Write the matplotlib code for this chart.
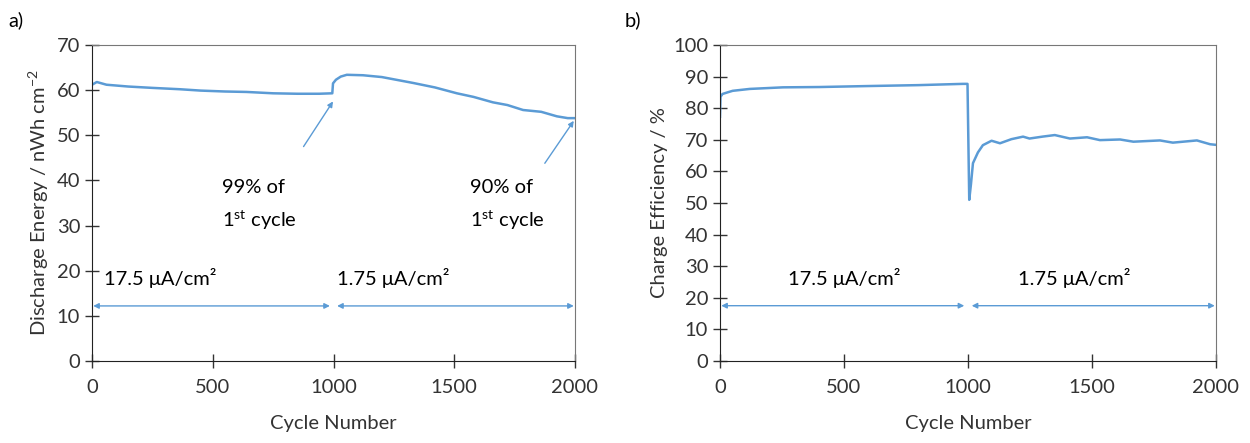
import matplotlib.pyplot as plt

plt.rcParams['font.family'] = ['Lato', 'DejaVu Sans']
plt.rcParams['mathtext.fontset'] = 'custom'
plt.rcParams['mathtext.rm'] = 'Lato'
plt.rcParams['mathtext.it'] = 'Lato:italic'

# a) discharge energy
cyc_a = [0, 20, 60, 150, 250, 364, 450, 550, 640, 750, 850, 940, 995,
         998, 1010, 1030, 1055, 1122, 1200, 1329, 1420, 1511, 1580, 1660,
         1720, 1785, 1860, 1925, 1970, 2000]
energy = [61.2, 61.8, 61.2, 60.8, 60.5, 60.2, 59.9, 59.7, 59.6, 59.3, 59.2, 59.2, 59.3,
          61.5, 62.3, 63.0, 63.4, 63.3, 62.9, 61.6, 60.6, 59.3, 58.5, 57.3,
          56.7, 55.6, 55.2, 54.2, 53.8, 53.8]

# b) charge efficiency
cyc_b = [0, 2, 10, 30, 51, 120, 254, 400, 590, 800, 980, 998,
         1005, 1012, 1020, 1040, 1060, 1095, 1129, 1175, 1222, 1248, 1300, 1350,
         1411, 1480, 1532, 1613, 1667, 1774, 1826, 1923, 1976, 2000]
eff = [77.3, 83.6, 84.5, 85.0, 85.5, 86.1, 86.6, 86.7, 87.0, 87.3, 87.7, 87.7,
       51.0, 56.0, 62.6, 66.0, 68.3, 69.7, 68.9, 70.2, 71.0, 70.4, 71.0, 71.5,
       70.4, 70.8, 69.9, 70.1, 69.4, 69.8, 69.1, 69.8, 68.6, 68.4]

blue = '#5B9BD5'
fs = 14.5

fig = plt.figure(figsize=(12.5, 4.43), dpi=100)
ax1 = fig.add_axes([92 / 1250, 82 / 443, 483 / 1250, 316 / 443])
ax2 = fig.add_axes([720 / 1250, 82 / 443, 496 / 1250, 316 / 443])


def style(ax, ymax):
    ax.set_xlim(0, 2000)
    ax.set_ylim(0, ymax)
    ax.set_xticks([0, 500, 1000, 1500, 2000])
    ax.set_yticks(range(0, ymax + 1, 10))
    ax.tick_params(direction='inout', length=10, width=1, labelsize=fs, colors='#333333')
    ax.tick_params(axis='x', pad=8)
    for s in ['left', 'bottom']:
        ax.spines[s].set_color('#222222')
    for s in ['top', 'right']:
        ax.spines[s].set_color('#777777')
    ax.set_xlabel('Cycle Number', fontsize=fs, labelpad=14, color='#333333')


def span_arrows(ax, y):
    kw = dict(arrowstyle='<|-|>', color=blue, lw=1, mutation_scale=8, shrinkA=0, shrinkB=0)
    ax.annotate('', xy=(5, y), xytext=(985, y), arrowprops=kw)
    ax.annotate('', xy=(1015, y), xytext=(1995, y), arrowprops=kw)


# panel a
ax1.plot(cyc_a, energy, color=blue, lw=1.8)
style(ax1, 70)
ax1.set_ylabel('Discharge Energy / nWh cm$^{-2}$', fontsize=fs, color='#333333')
span_arrows(ax1, 12.2)
ax1.text(282, 18.4, '17.5 μA/cm²', fontsize=fs, ha='center', va='center')
ax1.text(1247, 18.4, '1.75 μA/cm²', fontsize=fs, ha='center', va='center')
akw = dict(arrowstyle='-|>', color=blue, lw=1, mutation_scale=8, shrinkA=0, shrinkB=0)
ax1.annotate('', xy=(998, 57.5), xytext=(876, 47.5), arrowprops=akw)
ax1.annotate('', xy=(1995, 53.2), xytext=(1875, 43.8), arrowprops=akw)
ax1.text(538, 34.5, '99% of\n1$^{\\mathrm{st}}$ cycle', fontsize=fs, ha='left', va='center',
         linespacing=1.7)
ax1.text(1565, 34.5, '90% of\n1$^{\\mathrm{st}}$ cycle', fontsize=fs, ha='left', va='center',
         linespacing=1.7)

# panel b
ax2.plot(cyc_b, eff, color=blue, lw=1.8)
style(ax2, 100)
ax2.set_ylabel('Charge Efficiency / %', fontsize=fs, color='#333333')
span_arrows(ax2, 17.5)
ax2.text(500, 26.3, '17.5 μA/cm²', fontsize=fs, ha='center', va='center')
ax2.text(1430, 26.3, '1.75 μA/cm²', fontsize=fs, ha='center', va='center')

fig.text(8 / 1250, 1 - 20 / 443, 'a)', fontsize=fs, va='center')
fig.text(625 / 1250, 1 - 20 / 443, 'b)', fontsize=fs, va='center')

fig.savefig('out.png', dpi=100)
